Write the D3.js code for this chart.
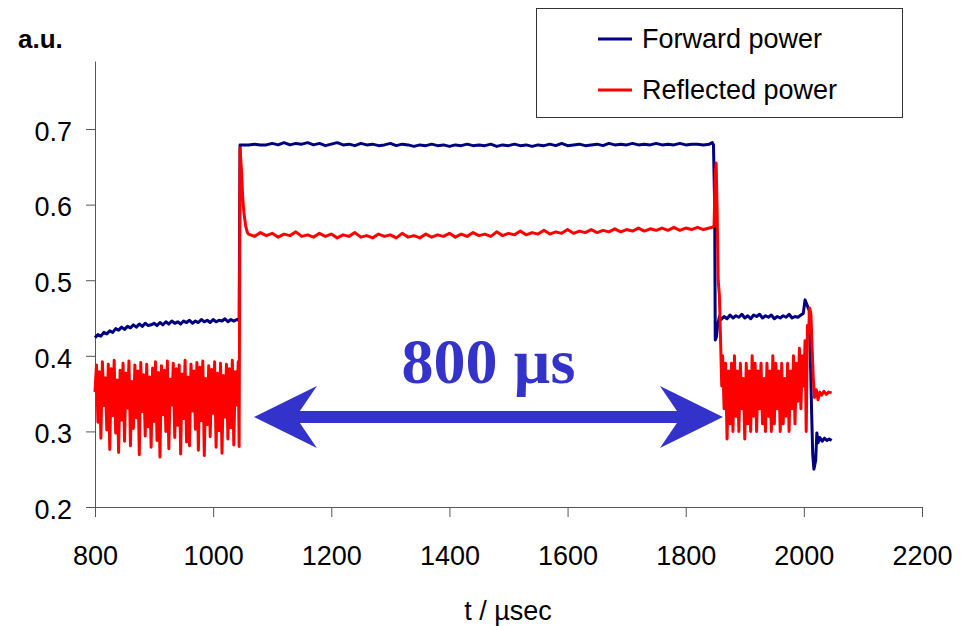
<!DOCTYPE html>
<html>
<head>
<meta charset="utf-8">
<script src="https://cdn.jsdelivr.net/npm/d3@7"></script>
<style>
  body { margin: 0; background: #fff; }
  svg text { font-family: "Liberation Sans", Arial, sans-serif; }
</style>
</head>
<body>
<div id="chart"></div>
<script>
// tick values
const xTicks = [800, 1000, 1200, 1400, 1600, 1800, 2000, 2200];
const yTicks = [0.2, 0.3, 0.4, 0.5, 0.6, 0.7];
const seriesNames = ["Forward power", "Reflected power"];

// Forward power, 800-1040 us, sampled every 5 us
const fwdRise = [
  0.424,0.428,0.426,0.431,0.429,0.433,0.431,0.436,0.434,0.438,
  0.435,0.439,0.437,0.441,0.438,0.442,0.439,0.443,0.440,0.441,
  0.443,0.440,0.444,0.441,0.445,0.442,0.446,0.443,0.445,0.442,
  0.446,0.444,0.447,0.443,0.446,0.444,0.448,0.445,0.447,0.444,
  0.448,0.445,0.447,0.446,0.449,0.445,0.448,0.446,0.448
];
const fwdStepUp = [[1044, 0.447], [1045.5, 0.679]];
// Forward power, 1050-1840 us, every 10 us
const fwdFlat = [
  0.679,0.679,0.680,0.679,0.679,0.681,0.679,0.682,0.679,0.681,
  0.680,0.682,0.679,0.681,0.678,0.680,0.682,0.679,0.680,0.678,
  0.681,0.679,0.680,0.678,0.679,0.681,0.678,0.680,0.679,0.677,
  0.679,0.678,0.680,0.678,0.679,0.677,0.679,0.678,0.680,0.678,
  0.679,0.678,0.680,0.677,0.679,0.678,0.680,0.678,0.679,0.677,
  0.679,0.678,0.680,0.678,0.681,0.678,0.679,0.680,0.678,0.679,
  0.680,0.678,0.681,0.679,0.680,0.679,0.681,0.679,0.680,0.679,
  0.681,0.679,0.680,0.679,0.681,0.679,0.680,0.680,0.679,0.680
];
const fwdStepDown = [[1845, 0.682], [1847, 0.679], [1849, 0.60], [1850, 0.421],
  [1852, 0.425], [1854, 0.44], [1857, 0.452]];
// Forward power, 1860-1995 us, every 5 us
const fwdTail = [
  0.448,0.452,0.449,0.454,0.450,0.453,0.451,0.455,0.450,0.453,
  0.449,0.454,0.452,0.455,0.450,0.453,0.451,0.454,0.449,0.452,
  0.450,0.453,0.451,0.455,0.450,0.452,0.451,0.454
];
const fwdEnd = [[1999, 0.456], [2002, 0.474], [2005, 0.468], [2009, 0.46], [2011, 0.40],
  [2013, 0.33], [2015, 0.27], [2017, 0.25], [2020, 0.262], [2022, 0.298], [2024, 0.285],
  [2027, 0.292], [2031, 0.287], [2035, 0.291], [2039, 0.288], [2043, 0.29], [2047, 0.288]];

// Reflected power, 800-1042.5 us, every 2.5 us
const refNoise1 = [
  0.352,0.388,0.312,0.379,0.291,0.392,0.334,0.371,0.302,0.389,
  0.276,0.383,0.321,0.394,0.298,0.368,0.272,0.381,0.315,0.390,
  0.287,0.377,0.331,0.393,0.281,0.366,0.304,0.388,0.318,0.380,
  0.269,0.391,0.326,0.375,0.294,0.389,0.306,0.372,0.279,0.384,
  0.313,0.392,0.288,0.378,0.266,0.387,0.322,0.381,0.300,0.393,
  0.277,0.369,0.335,0.390,0.292,0.383,0.308,0.388,0.270,0.376,
  0.317,0.394,0.286,0.372,0.281,0.389,0.327,0.380,0.303,0.391,
  0.275,0.385,0.314,0.393,0.268,0.370,0.309,0.387,0.293,0.382,
  0.324,0.392,0.279,0.377,0.301,0.390,0.271,0.374,0.319,0.389,
  0.290,0.383,0.305,0.394,0.282,0.379,0.335,0.392
];
const refStepUp = [[1044, 0.28], [1045.5, 0.675], [1048, 0.645], [1050, 0.61],
  [1052, 0.59], [1055, 0.572], [1058, 0.563]];
// Reflected power, 1060-1840 us, every 10 us
const refFlat = [
  0.561,0.558,0.563,0.559,0.562,0.557,0.561,0.559,0.564,0.558,
  0.560,0.557,0.562,0.558,0.561,0.556,0.560,0.558,0.563,0.557,
  0.559,0.556,0.561,0.558,0.560,0.556,0.562,0.557,0.559,0.556,
  0.561,0.557,0.560,0.558,0.562,0.557,0.561,0.558,0.563,0.559,
  0.561,0.558,0.564,0.559,0.562,0.560,0.565,0.560,0.563,0.561,
  0.566,0.561,0.564,0.562,0.567,0.562,0.565,0.563,0.567,0.563,
  0.566,0.564,0.568,0.564,0.567,0.565,0.569,0.565,0.568,0.566,
  0.569,0.566,0.570,0.566,0.569,0.567,0.570,0.567,0.569
];
const refStepDown = [[1845, 0.57], [1848, 0.572], [1850, 0.64], [1851.5, 0.655],
  [1853, 0.60], [1855, 0.50], [1857, 0.48], [1859, 0.42], [1861, 0.36]];
// Reflected power, 1862.5-2000 us, every 2.5 us
const refNoise2 = [
  0.40,0.33,0.39,0.29,0.38,0.31,0.39,0.30,0.40,0.32,
  0.38,0.30,0.39,0.33,0.37,0.29,0.39,0.31,0.38,0.30,
  0.40,0.32,0.39,0.30,0.38,0.33,0.39,0.31,0.37,0.30,
  0.39,0.32,0.38,0.30,0.40,0.31,0.39,0.33,0.38,0.30,
  0.39,0.31,0.37,0.32,0.39,0.30,0.38,0.33,0.40,0.31,
  0.39,0.34,0.41,0.33,0.40,0.36
];
const refEnd = [[2002, 0.42], [2004, 0.30], [2006, 0.44], [2008, 0.43], [2010, 0.463],
  [2012, 0.455], [2014, 0.41], [2016, 0.37], [2018, 0.345], [2021, 0.355], [2024, 0.342],
  [2027, 0.352], [2030, 0.348], [2034, 0.353], [2038, 0.349], [2042, 0.352], [2047, 0.351]];

// pulse length annotation
const pulseLabel = "800 \u00b5s";
const arrowFrom = 1069, arrowTo = 1863, arrowLevel = 0.319;

// turn a regularly sampled block into [t, v] pairs
function sampled(values, t0, dt) {
  return values.map((v, i) => [t0 + i * dt, v]);
}

const forward = [].concat(
  sampled(fwdRise, 800, 5), fwdStepUp, sampled(fwdFlat, 1050, 10),
  fwdStepDown, sampled(fwdTail, 1860, 5), fwdEnd);
const reflected = [].concat(
  sampled(refNoise1, 800, 2.5), refStepUp, sampled(refFlat, 1060, 10),
  refStepDown, sampled(refNoise2, 1862.5, 2.5), refEnd);

const W = 962, H = 626;
const svg = d3.select("#chart").append("svg")
  .attr("width", W).attr("height", H);

const x = d3.scaleLinear().domain([800, 2200]).range([95, 922]);
const y = d3.scaleLinear().domain([0.2, 0.79]).range([507, 61]);

const axisColor = "#555";

// x axis
const gx = svg.append("g")
  .attr("transform", "translate(0," + y(0.2) + ")")
  .call(d3.axisBottom(x).tickValues(xTicks).tickFormat(d3.format("d"))
    .tickSizeInner(10).tickSizeOuter(0).tickPadding(29));
gx.selectAll("text").style("font-size", "27px").attr("fill", "#000");

// y axis
const gy = svg.append("g")
  .attr("transform", "translate(" + x(800) + ",0)")
  .call(d3.axisLeft(y).tickValues(yTicks).tickFormat(d3.format(".1f"))
    .tickSizeInner(9).tickSizeOuter(0).tickPadding(14));
gy.selectAll("text").style("font-size", "27px").attr("fill", "#000").attr("dy", "0.42em");

svg.selectAll(".domain, .tick line").attr("stroke", axisColor);

// axis titles
svg.append("text")
  .attr("x", 18).attr("y", 48)
  .style("font-size", "26px").style("font-weight", "bold")
  .text("a.u.");

svg.append("text")
  .attr("x", 508).attr("y", 620)
  .attr("text-anchor", "middle")
  .style("font-size", "27px")
  .text("t / \u00b5sec");

// data lines
const line = d3.line().x(d => x(d[0])).y(d => y(d[1]));

svg.append("path")
  .datum(forward)
  .attr("d", line)
  .attr("fill", "none")
  .attr("stroke", "#000080")
  .attr("stroke-width", 3)
  .attr("stroke-linejoin", "round");

svg.append("path")
  .datum(reflected)
  .attr("d", line)
  .attr("fill", "none")
  .attr("stroke", "#ff0000")
  .attr("stroke-width", 3)
  .attr("stroke-linejoin", "round");

// double arrow for the pulse length
const arrowColor = "#3333cc";
const xl = x(arrowFrom), xr = x(arrowTo), yc = y(arrowLevel);
const headLen = 63, notch = 46, headHalf = 31, shaft = 6;
const arrowPts = [
  [xl, yc], [xl + headLen, yc - headHalf], [xl + notch, yc - shaft],
  [xr - notch, yc - shaft], [xr - headLen, yc - headHalf], [xr, yc],
  [xr - headLen, yc + headHalf], [xr - notch, yc + shaft],
  [xl + notch, yc + shaft], [xl + headLen, yc + headHalf]
];
svg.append("path")
  .attr("d", "M" + arrowPts.map(p => p.join(",")).join("L") + "Z")
  .attr("fill", arrowColor);

svg.append("text")
  .attr("x", (xl + xr) / 2).attr("y", 383)
  .attr("text-anchor", "middle")
  .style("font-family", "'Liberation Serif', 'Times New Roman', serif")
  .style("font-size", "64px").style("font-weight", "bold")
  .attr("fill", arrowColor)
  .text(pulseLabel);

// legend
const legend = svg.append("g");
legend.append("rect")
  .attr("x", 536.5).attr("y", 8.5).attr("width", 366).attr("height", 109)
  .attr("fill", "#fff").attr("stroke", "#333").attr("stroke-width", 1);

const legendColors = ["#000080", "#ff0000"];
seriesNames.forEach((name, i) => {
  const ly = 39 + i * 51;
  legend.append("line")
    .attr("x1", 598).attr("x2", 632).attr("y1", ly).attr("y2", ly)
    .attr("stroke", legendColors[i]).attr("stroke-width", 3);
  legend.append("text")
    .attr("x", 642).attr("y", ly + 9)
    .style("font-size", "27px")
    .text(name);
});
</script>
</body>
</html>
